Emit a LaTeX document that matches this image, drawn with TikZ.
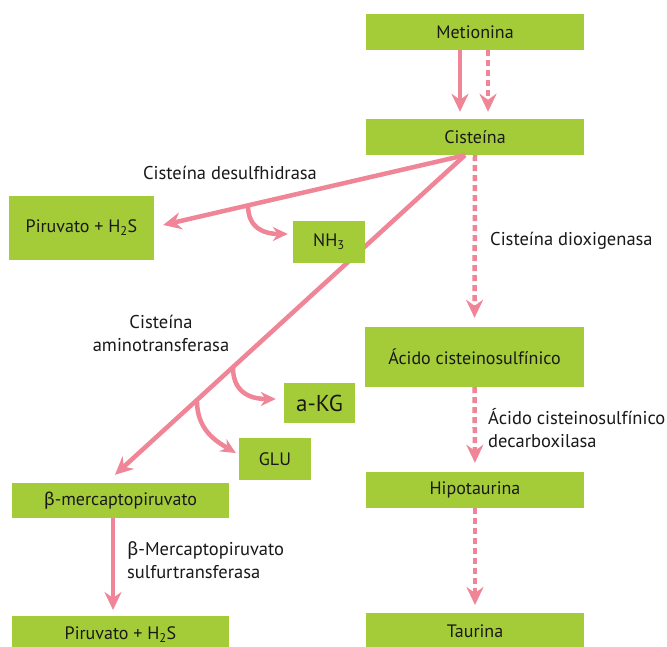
\documentclass[tikz,border=0pt]{standalone}
\usepackage{fontspec}
\setmainfont{PT Sans}
\newfontfamily\grk{Fira Sans}
\usetikzlibrary{arrows.meta}
\pgfdeclarelayer{bg}
\pgfdeclarelayer{canvas}
\pgfsetlayers{canvas,bg,main}
\definecolor{boxgreen}{RGB}{164,204,57}
\definecolor{arrpink}{RGB}{239,133,150}
\definecolor{txt}{RGB}{25,25,25}
\tikzset{
  box/.style={fill=boxgreen, draw=none, inner sep=0pt, text=txt, font=\fontsize{18}{21}\selectfont},
  lbl/.style={text=txt, font=\fontsize{18.5}{23}\selectfont, inner sep=0pt},
  conn/.style={draw=arrpink, line width=4.5pt, -{Stealth[length=18pt,width=17pt,inset=6pt]}},
  branch/.style={draw=arrpink, line width=4.5pt, -{Stealth[length=15pt,width=14pt,inset=5pt]}},
  dconn/.style={conn, dash pattern=on 6pt off 4pt},
}
\begin{document}
\begin{tikzpicture}[x=1pt,y=-1pt]
\begin{pgfonlayer}{canvas}
\fill[white] (0,0) rectangle (667,647);
\end{pgfonlayer}
\useasboundingbox (0,0) rectangle (667,647);
% boxes
\node[box, minimum width=218pt, minimum height=36pt] (met) at (475,32) {Metionina};
\node[box, minimum width=218pt, minimum height=36pt] (cis) at (475,137) {Ciste\'ina};
\node[box, minimum width=145pt, minimum height=64pt] (pir1) at (81.5,228) {Piruvato + H\textsubscript{2}S};
\node[box, minimum width=72pt, minimum height=42pt] (nh3) at (329,242) {NH\textsubscript{3}};
\node[box, minimum width=71pt, minimum height=40pt, font=\fontsize{23}{26}\selectfont] (akg) at (319.5,403) {a-KG};
\node[box, minimum width=72pt, minimum height=42pt] (glu) at (275,459) {GLU};
\node[box, minimum width=217pt, minimum height=35pt] (bmp) at (120.5,500.5) {{\grk β}-mercaptopiruvato};
\node[box, minimum width=217pt, minimum height=36pt, anchor=north] (pir2) at (120.5,616) {Piruvato + H\textsubscript{2}S};
\node[box, minimum width=219pt, minimum height=60pt] (acido) at (474.5,357) {Ácido cisteinosulfínico};
\node[box, minimum width=218pt, minimum height=36pt] (hipo) at (475,490) {Hipotaurina};
\node[box, minimum width=218pt, minimum height=36pt, anchor=north] (taur) at (475,613) {Taurina};
% labels
\node[lbl] (l1) at (230,173) {Ciste\'ina desulfhidrasa};
\node[lbl, anchor=west] (l2) at (490,241) {Ciste\'ina dioxigenasa};
\node[lbl, align=center] (l3) at (161,333) {Ciste\'ina\\aminotransferasa};
\node[lbl, align=left, anchor=west] (l4) at (488,428.5) {Ácido cisteinosulfínico\\decarboxilasa};
\node[lbl, align=left, anchor=west] (l5) at (127,560) {{\grk β}-Mercaptopiruvato\\sulfurtransferasa};
% connectors
\draw[conn, shorten >=7pt] ([xshift=-15pt]met.south) -- ([xshift=-15pt]cis.north);
\draw[dconn, shorten >=7pt] ([xshift=13pt]met.south) -- ([xshift=13pt]cis.north);
\draw[conn] ([xshift=-10pt]cis.south) -- coordinate[pos=0.719] (b1) ([xshift=9pt,yshift=3pt]pir1.east);
\begin{pgfonlayer}{bg}
\draw[conn] ([xshift=-10pt]cis.south) -- coordinate[pos=0.663] (b2) coordinate[pos=0.766] (b3) ([xshift=-5.5pt,yshift=8pt]bmp.north);
\end{pgfonlayer}
\draw[branch] (b1) .. controls +(0,24) and +(-22,0) .. ([xshift=-5pt,yshift=8pt]nh3.west);
\draw[branch] (b2) .. controls +(0,28) and +(-22,0) .. ([xshift=-8pt,yshift=4pt]akg.west);
\draw[branch] (b3) .. controls +(0,30) and +(-20,-12) .. ([xshift=-3pt,yshift=6pt]glu.west);
\draw[dconn, shorten >=9pt] (cis.south) -- (acido.north);
\draw[dconn, shorten >=9pt] (acido.south) -- (hipo.north);
\draw[dconn, shorten >=8pt] (hipo.south) -- (taur.north);
\draw[conn, shorten >=6pt] ([xshift=-7.5pt]bmp.south) -- ([xshift=-7.5pt]pir2.north);
\end{tikzpicture}
\end{document}
